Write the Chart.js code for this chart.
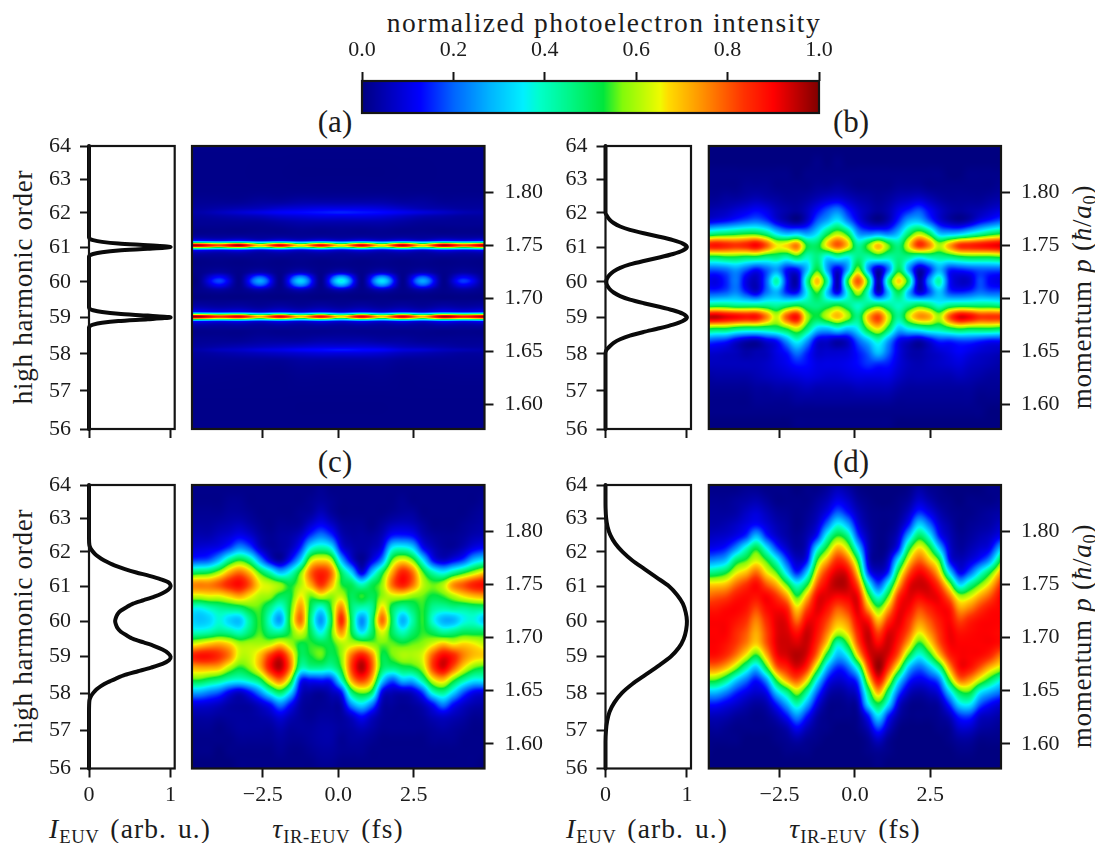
<!DOCTYPE html>
<html><head><meta charset="utf-8">
<script src="https://cdn.jsdelivr.net/npm/chart.js@4/dist/chart.umd.min.js"></script>
<style>
html,body{margin:0;padding:0;background:#fff;width:1095px;height:843px;overflow:hidden}
canvas{position:absolute;display:block}
.t{position:absolute;font-family:"Liberation Serif",serif;color:#1c1c1c;white-space:nowrap;line-height:1}
.t sub{font-size:.68em;vertical-align:-.28em;line-height:0;letter-spacing:.6px}
.lab{font-size:27px;letter-spacing:.75px}
.xl{font-size:27.5px;letter-spacing:1.1px;word-spacing:3px}
.pan{font-size:31px}
.rot{transform:translate(-50%,-50%) rotate(-90deg)}
.cen{transform:translate(-50%,-50%)}
</style></head><body>
<div class="t cen" style="left:604px;top:23px;font-size:27.5px;letter-spacing:1.5px">normalized photoelectron intensity</div>
<div class="t pan cen" style="left:335px;top:121px">(a)</div>
<div class="t pan cen" style="left:851px;top:121px">(b)</div>
<div class="t pan cen" style="left:335px;top:461px">(c)</div>
<div class="t pan cen" style="left:851px;top:461px">(d)</div>
<div class="t lab rot" style="left:23px;top:287px">high harmonic order</div>
<div class="t lab rot" style="left:23px;top:626px">high harmonic order</div>
<div class="t lab rot" style="left:1082px;top:297px">momentum <i>p</i> (<i>ħ</i>/<i>a</i><sub>0</sub>)</div>
<div class="t lab rot" style="left:1082px;top:636px">momentum <i>p</i> (<i>ħ</i>/<i>a</i><sub>0</sub>)</div>
<div class="t xl cen" style="left:130px;top:829px"><i>I</i><sub>EUV</sub> (arb. u.)</div>
<div class="t xl cen" style="left:338px;top:829px"><i>τ</i><sub>IR-EUV</sub> (fs)</div>
<div class="t xl cen" style="left:647px;top:829px"><i>I</i><sub>EUV</sub> (arb. u.)</div>
<div class="t xl cen" style="left:855px;top:829px"><i>τ</i><sub>IR-EUV</sub> (fs)</div>
<script>
// ---------- axis values ----------
const harmonicOrders = [56,57,58,59,60,61,62,63,64];
const intensityTicks = [0,1];
const delayTicks = [-2.5,0,2.5];
const delayLabels = ['\u22122.5','0.0','2.5'];
const momentumTicks = [1.60,1.65,1.70,1.75,1.80];
const momentumLabels = ['1.60','1.65','1.70','1.75','1.80'];
const colorbarTicks = [0,0.2,0.4,0.6,0.8,1];
const colorbarLabels = ['0.0','0.2','0.4','0.6','0.8','1.0'];
const colorbarLevels = [0,0.1,0.2,0.3,0.4,0.5,0.6,0.7,0.8,0.9,1];
// pixel-read momentum of each harmonic order tick
const orderMomentum = [1.5767,1.6126,1.6477,1.6820,1.7155,1.7484,1.7807,1.8124,1.8437];

// ---------- EUV spectra (order, intensity) ----------
const ordersA = [56,58.5,58.72,58.76,58.8,58.85,58.9,58.95,59,59.05,59.1,59.15,59.2,59.24,59.28,59.5,60,60.5,60.72,60.76,60.8,60.85,60.9,60.95,61,61.05,61.1,61.15,61.2,61.24,61.28,61.5,62,64];
const intensityA = [0,0,0,0.01,0.05,0.16,0.36,0.72,1,0.72,0.36,0.16,0.05,0.01,0,0,0,0,0,0.01,0.05,0.16,0.36,0.72,1,0.72,0.36,0.16,0.05,0.01,0,0,0,0];
const ordersB = [56,57,58,58.1,58.2,58.3,58.4,58.5,58.6,58.7,58.8,58.9,59,59.1,59.2,59.3,59.4,59.5,59.6,59.7,59.8,59.9,60,60.1,60.2,60.3,60.4,60.5,60.6,60.7,60.8,60.9,61,61.1,61.2,61.3,61.4,61.5,61.6,61.7,61.8,61.9,62,64];
const intensityB = [0,0,0,0.01,0.05,0.1,0.18,0.3,0.47,0.66,0.83,0.95,1,0.95,0.83,0.66,0.47,0.3,0.18,0.1,0.05,0.02,0.01,0.02,0.05,0.1,0.18,0.3,0.47,0.66,0.83,0.95,1,0.95,0.83,0.66,0.47,0.3,0.18,0.1,0.05,0.02,0,0];
const ordersC = [56,57.5,57.8,57.9,58,58.1,58.2,58.3,58.4,58.5,58.6,58.7,58.8,58.9,59,59.1,59.2,59.3,59.4,59.5,59.6,59.7,59.8,59.9,60,60.1,60.2,60.3,60.4,60.5,60.6,60.7,60.8,60.9,61,61.1,61.2,61.3,61.4,61.5,61.6,61.7,61.8,61.9,62,62.1,62.2,62.4,64];
const intensityC = [0,0,0.005,0.02,0.05,0.09,0.15,0.23,0.33,0.44,0.6,0.76,0.9,0.98,1,0.97,0.9,0.8,0.67,0.54,0.46,0.39,0.35,0.33,0.32,0.33,0.35,0.39,0.46,0.54,0.67,0.8,0.9,0.97,1,0.98,0.88,0.74,0.58,0.44,0.32,0.23,0.15,0.09,0.05,0.02,0.005,0,0];
const ordersD = [56,56.7,57,57.25,57.5,57.75,58,58.25,58.5,58.75,59,59.25,59.5,59.75,60,60.25,60.5,60.75,61,61.25,61.5,61.75,62,62.25,62.5,62.75,63,63.3,63.6,64];
const intensityD = [0,0,0.006,0.02,0.05,0.11,0.2,0.33,0.49,0.65,0.8,0.9,0.96,0.99,1,0.985,0.95,0.88,0.78,0.63,0.48,0.33,0.21,0.12,0.06,0.025,0.008,0.001,0,0];

// ---------- photoelectron maps (percent of full scale) ----------
const tauColumns = [-4.949,-4.612,-4.276,-3.939,-3.602,-3.266,-2.929,-2.593,-2.256,-1.919,-1.583,-1.246,-0.910,-0.573,-0.236,0.100,0.437,0.773,1.110,1.447,1.783,2.120,2.456,2.793,3.130,3.466,3.803,4.139,4.476,4.813];
const rowMomentum = [1.8511,1.8398,1.8286,1.8174,1.8062,1.7949,1.7837,1.7725,1.7612,1.75,1.7388,1.7275,1.7163,1.7051,1.6938,1.6826,1.6714,1.6602,1.6489,1.6377,1.6265,1.6152,1.604,1.5928,1.5816,1.5703];

const tauColumnsA = [-5.286,-4.613,-3.94,-3.266,-2.593,-1.92,-1.247,-0.573,0.1,0.773,1.447,2.12,2.793,3.467,4.14,4.813];
const rowMomentumA = [1.8525,1.8022,1.7912,1.7849,1.7811,1.7774,1.7708,1.7597,1.7547,1.7535,1.7522,1.7513,1.75,1.7487,1.7478,1.7465,1.7453,1.7393,1.7252,1.7204,1.7164,1.7123,1.7075,1.6984,1.6874,1.6862,1.6849,1.684,1.6827,1.6814,1.6805,1.6792,1.678,1.6717,1.6607,1.6544,1.6513,1.6481,1.6403,1.6104,1.5695];
// panel (a): one list per row
const mapARows = [
[1,1,1,1,1,1,1,1,1,1,1,1,1,1,1,1],
[1,1,1,1,1,1,1,1,1,1,1,1,1,1,1,1],
[2,2,2,2,3,3,4,4,4,4,4,3,3,2,2,2],
[3,3,4,5,6,8,9,10,10,10,9,7,5,4,3,3],
[4,4,6,8,10,12,13,14,15,14,13,11,9,7,5,4],
[3,3,4,5,6,8,9,10,10,10,9,7,5,4,3,3],
[2,2,2,2,2,3,4,4,4,4,4,3,2,2,2,2],
[2,2,2,2,2,2,2,2,2,2,2,2,2,2,2,2],
[12,12,10,12,8,11,8,11,8,11,8,11,8,12,10,12],
[32,32,28,32,24,30,22,30,22,30,22,31,24,32,28,32],
[58,58,50,58,42,55,40,54,40,55,40,57,42,58,50,58],
[84,84,72,85,60,80,58,78,58,80,58,83,60,85,72,85],
[97,96,82,97,70,92,68,90,68,92,68,95,70,97,82,97],
[84,84,72,85,60,80,58,78,58,80,58,83,60,85,72,85],
[58,58,50,58,42,55,40,54,40,55,40,57,42,58,50,58],
[32,32,28,32,24,30,22,30,22,30,22,31,24,32,28,32],
[12,12,10,12,8,11,8,11,8,11,8,11,8,12,10,12],
[2,2,2,2,2,2,2,2,2,2,2,2,2,2,2,2],
[1,1,3,1,4,1,5,1,5,1,5,1,4,1,3,1],
[1,1,12,1,19,1,23,1,26,1,24,1,19,1,11,1],
[1,1,18,1,27,1,32,1,37,1,34,1,27,1,17,1],
[1,1,12,1,19,1,23,1,26,1,24,1,19,1,11,1],
[1,1,3,1,4,1,5,1,5,1,5,1,4,1,3,1],
[1,1,1,1,1,1,1,1,1,1,1,1,1,1,1,1],
[12,12,10,11,8,11,8,11,8,11,8,11,8,12,10,12],
[32,32,28,31,24,30,23,30,22,30,23,31,24,32,28,32],
[60,60,52,56,44,55,42,54,40,55,42,56,44,58,52,58],
[86,86,74,80,62,80,60,78,58,80,60,81,62,85,76,85],
[98,98,85,92,72,92,70,90,68,92,70,93,72,97,88,97],
[86,86,74,80,62,80,60,78,58,80,60,81,62,85,76,85],
[60,60,52,56,44,55,42,54,40,55,42,56,44,58,52,58],
[32,32,28,31,24,30,23,30,22,30,23,31,24,32,28,32],
[12,12,10,11,8,11,8,11,8,11,8,11,8,12,10,12],
[2,2,2,2,2,2,2,2,2,2,2,2,2,2,2,2],
[2,2,2,2,3,3,3,4,4,4,3,3,2,2,2,2],
[3,3,4,5,6,7,8,9,9,9,8,6,5,4,3,3],
[4,4,6,7,9,10,12,13,14,13,12,9,8,6,5,4],
[3,3,4,5,6,7,8,9,9,9,8,6,5,4,3,3],
[2,2,2,2,2,2,3,3,3,3,3,2,2,2,2,2],
[1,1,1,1,1,1,1,1,1,1,1,1,1,1,1,1],
[1,1,1,1,1,1,1,1,1,1,1,1,1,1,1,1]];
// panels (b),(c),(d): one list per tau column
const mapBCols = [
[0,0,0,1,1,2,4,10,42,86,50,20,12,18,44,94,54,20,8,6,3,2,1,1,0,0],
[0,0,0,1,1,2,5,12,46,88,50,20,10,18,46,95,52,18,8,6,4,2,1,1,0,0],
[0,0,0,1,1,3,6,14,48,86,52,22,15,20,46,92,52,16,7,6,4,2,1,1,0,0],
[0,0,0,1,1,3,8,17,50,84,52,26,22,24,44,90,48,10,6,6,4,2,1,1,0,0],
[0,0,0,1,2,4,10,20,52,86,50,20,10,16,44,88,46,6,4,6,4,2,1,1,0,0],
[0,0,0,1,2,5,12,22,52,90,50,14,6,10,44,88,46,5,5,6,5,3,2,1,0,0],
[0,0,0,1,2,4,10,18,46,80,46,20,20,22,44,76,46,10,6,7,6,3,2,1,0,0],
[0,0,0,1,1,3,6,10,34,66,46,26,42,28,42,62,48,14,10,9,7,4,2,1,0,0],
[0,0,0,1,1,2,4,5,28,68,42,14,14,16,46,80,54,26,14,11,8,4,2,1,0,0],
[0,0,0,0,1,2,3,2,30,76,50,14,5,14,50,88,62,38,22,14,9,5,3,1,1,0],
[0,0,0,1,1,3,6,8,26,52,40,30,44,36,46,60,48,26,15,13,10,6,3,1,1,0],
[0,0,1,1,2,5,12,20,34,50,46,52,70,54,46,52,32,10,8,10,9,5,3,1,1,0],
[0,0,0,1,2,7,18,28,50,68,34,26,42,30,48,62,30,8,8,10,8,5,3,1,1,0],
[0,0,1,1,3,8,22,36,60,80,40,10,5,12,52,70,36,5,8,10,8,5,3,1,1,0],
[0,0,0,1,2,6,14,24,50,68,36,28,52,38,46,60,30,8,9,11,9,5,3,1,1,0],
[0,0,0,1,1,4,8,12,26,44,46,58,80,60,40,46,36,20,14,13,10,6,3,1,1,0],
[0,0,0,1,1,3,5,5,22,56,42,26,52,38,46,70,56,30,20,16,10,6,3,1,1,0],
[0,0,0,1,1,2,3,2,24,70,46,6,4,8,50,82,66,40,30,15,10,6,3,1,1,0],
[0,0,0,1,1,3,5,6,22,56,42,22,44,30,44,62,50,26,20,14,10,6,3,1,1,0],
[0,0,0,1,2,5,10,16,30,46,46,50,68,50,40,44,30,12,10,9,7,4,2,1,0,0],
[0,0,0,1,2,6,14,28,48,66,44,26,48,28,44,62,36,8,5,6,5,3,2,1,0,0],
[0,0,0,1,2,7,18,30,60,84,38,6,5,10,50,74,40,5,4,5,5,3,2,1,0,0],
[0,0,0,1,1,5,12,20,50,76,42,14,24,18,46,72,44,10,6,6,5,3,2,1,0,0],
[0,0,0,1,1,3,7,10,30,60,44,28,42,30,38,60,44,16,8,7,5,3,2,1,0,0],
[0,0,0,0,1,2,4,5,28,72,46,16,14,18,44,80,50,16,10,8,5,3,2,1,0,0],
[0,0,0,0,1,2,3,3,30,84,50,16,7,16,46,92,54,18,12,9,6,3,2,1,0,0],
[0,0,0,1,1,2,4,6,36,86,52,18,8,18,46,90,52,18,10,7,5,3,2,1,0,0],
[0,0,0,1,1,2,5,12,42,88,52,20,18,22,46,84,52,16,8,6,4,2,1,1,0,0],
[0,0,0,1,1,3,7,16,48,90,52,20,12,20,46,84,52,14,7,5,3,2,1,0,0,0],
[0,0,0,1,2,4,9,20,52,92,54,20,10,20,44,84,50,14,6,4,3,2,1,0,0,0]];
const mapCCols = [
[1,1,1,2,3,5,8,17,48,74,62,38,34,40,62,84,70,54,28,10,4,2,1,1,0,0],
[1,1,1,2,3,5,9,18,50,76,62,36,30,40,66,88,72,54,28,10,4,2,1,1,0,0],
[1,1,1,2,3,5,10,20,52,76,64,40,32,42,70,88,72,50,24,9,4,2,1,1,0,0],
[1,1,1,2,4,7,12,30,60,80,64,44,38,46,72,84,70,46,20,7,3,1,1,0,0,0],
[1,1,2,3,5,9,18,46,72,86,68,46,32,44,68,76,60,40,12,4,3,2,1,1,0,0],
[1,1,2,3,6,12,26,54,78,89,72,48,30,40,60,62,53,38,8,3,3,3,2,1,1,1],
[1,1,1,2,4,9,20,46,70,80,66,54,44,48,60,62,58,42,14,4,3,3,2,1,1,1],
[1,1,1,1,2,4,8,26,54,66,60,55,54,55,60,70,70,50,25,8,4,3,2,1,1,1],
[1,1,1,1,1,2,3,10,42,62,58,45,38,46,62,84,88,68,40,14,6,3,2,1,1,1],
[1,1,1,1,2,3,3,4,30,58,50,36,26,44,68,91,95,78,50,24,10,5,3,2,1,1],
[1,1,1,1,2,4,6,14,38,52,52,54,56,54,60,74,76,58,34,14,6,3,2,1,1,1],
[1,1,1,2,3,8,16,32,56,60,66,74,78,64,52,50,42,16,8,4,3,3,2,1,1,1],
[1,1,2,3,8,18,38,62,78,72,56,50,46,50,54,53,44,14,4,2,2,3,3,2,1,1],
[1,2,3,6,12,24,44,68,86,84,62,36,25,36,52,56,44,15,3,2,3,4,4,3,2,1],
[1,1,2,3,8,18,38,62,78,72,58,54,50,54,52,50,42,16,6,3,3,4,4,3,2,1],
[1,1,1,1,3,6,12,30,50,54,62,76,85,74,60,58,54,40,14,5,3,3,2,2,1,1],
[1,1,1,1,2,3,5,10,32,50,50,48,50,52,62,78,82,72,48,26,8,4,3,2,1,1],
[1,1,1,1,2,3,3,2,10,40,54,40,24,34,62,88,96,83,58,35,14,6,3,2,1,1],
[1,1,1,1,1,3,5,10,30,50,50,44,46,48,58,76,80,70,50,24,8,4,2,1,1,1],
[1,1,1,1,3,6,11,24,50,58,58,68,78,64,56,52,50,34,12,5,3,2,1,1,1,1],
[1,1,1,2,6,15,36,56,72,78,62,50,50,50,56,56,46,20,6,3,2,2,1,1,1,1],
[1,1,2,3,7,16,40,66,86,87,62,42,28,40,54,60,50,30,6,2,2,2,1,1,1,1],
[1,1,1,3,6,14,34,58,78,78,58,48,42,48,56,60,52,30,8,3,2,2,1,1,1,1],
[1,1,1,1,3,6,14,36,56,62,56,54,54,54,58,64,60,44,18,6,3,2,1,1,1,1],
[1,1,1,1,1,3,6,14,42,56,52,44,38,50,64,80,82,64,40,14,6,3,2,1,1,1],
[1,1,1,1,1,2,3,8,36,60,54,42,28,44,70,90,92,70,46,24,8,4,2,1,1,1],
[1,1,1,1,1,2,3,12,44,74,60,44,28,46,66,86,80,56,34,14,6,3,2,1,1,1],
[1,1,1,1,2,3,6,18,52,80,66,44,36,50,68,76,66,44,20,8,4,2,1,1,1,1],
[1,1,1,2,3,5,11,30,60,86,70,46,38,50,66,70,56,36,12,5,2,1,1,1,1,0],
[1,1,2,3,4,6,14,36,68,89,72,46,30,50,62,68,52,36,10,4,2,1,1,1,0,0]];
const mapDCols = [
[1,1,2,3,4,6,11,23,45,68,78,87,90,90,90,88,76,56,30,14,6,2,1,1,0,0],
[1,1,2,3,4,7,12,25,47,68,80,87,90,90,90,88,76,55,30,14,6,3,1,0,0,0],
[1,1,2,3,5,8,15,30,52,70,82,89,90,90,88,84,70,46,24,11,5,2,1,0,0,0],
[1,1,3,4,7,11,25,48,64,78,87,90,88,85,83,76,58,32,16,8,3,1,1,0,0,0],
[1,2,4,7,10,17,40,55,70,84,89,88,84,80,76,64,42,22,11,5,2,1,0,0,0,0],
[1,2,5,9,13,30,52,63,78,89,88,82,76,72,68,52,30,14,8,3,1,1,0,0,0,0],
[1,1,3,6,9,16,36,54,66,80,90,89,85,82,80,70,52,26,12,5,2,1,0,0,0,0],
[1,1,1,3,5,8,18,38,55,71,84,90,92,92,92,89,78,55,32,15,6,2,1,0,0,0],
[0,1,1,2,3,4,8,18,33,55,73,86,91,93,94,93,86,72,46,28,14,5,2,1,0,0],
[0,0,1,1,1,2,3,7,15,38,54,68,78,88,93,96,92,80,60,42,25,12,4,1,0,0],
[0,1,1,2,3,5,8,14,32,52,70,82,90,94,94,92,84,66,44,28,14,6,2,1,0,0],
[0,1,3,5,8,15,36,54,68,80,90,92,90,88,84,76,58,36,20,10,4,2,1,0,0,0],
[1,3,6,11,22,40,56,72,85,91,92,88,82,76,66,48,28,14,6,2,1,1,0,0,0,0],
[2,6,11,20,37,55,72,85,93,96,90,80,72,62,40,28,15,8,3,1,1,0,0,0,0,0],
[1,4,8,14,28,46,62,78,90,94,91,84,76,68,54,36,20,11,5,2,1,0,0,0,0,0],
[0,1,3,6,10,18,34,52,66,80,90,92,90,86,80,66,40,20,11,5,2,1,0,0,0,0],
[0,0,1,2,3,5,7,9,18,40,58,73,88,94,94,90,80,64,46,34,14,6,2,1,0,0],
[0,0,0,1,1,1,1,2,7,18,37,56,70,82,90,96,98,89,72,52,34,18,7,2,1,0],
[0,0,0,1,1,2,3,8,16,38,56,72,84,92,94,92,84,68,48,34,15,7,2,1,0,0],
[0,0,1,2,4,8,15,36,55,70,84,90,92,90,86,78,60,36,20,9,4,1,0,0,0,0],
[0,1,3,7,14,30,50,66,80,90,92,90,85,80,70,52,30,16,7,2,1,0,0,0,0,0],
[1,4,8,16,32,50,67,79,90,94,90,82,75,66,52,36,20,11,4,1,1,0,0,0,0,0],
[1,2,5,11,22,38,56,70,84,92,92,86,80,74,64,48,28,14,6,2,1,0,0,0,0,0],
[0,1,2,5,9,15,32,54,68,82,90,90,87,84,80,68,44,22,11,4,2,1,0,0,0,0],
[0,0,1,2,4,6,9,14,34,60,78,88,90,91,90,85,72,54,32,16,6,2,1,0,0,0],
[0,0,0,1,1,2,3,6,12,33,60,73,82,88,90,90,89,77,52,34,16,8,3,1,0,0],
[0,0,1,1,2,3,5,9,20,44,63,76,86,89,90,90,88,74,54,36,17,8,3,1,0,0],
[0,0,1,2,3,5,8,15,36,56,72,83,89,90,90,89,80,62,36,20,8,4,1,0,0,0],
[1,1,1,3,4,7,12,26,52,68,80,88,90,90,90,85,70,50,28,13,6,3,1,0,0,0],
[1,1,2,4,7,12,30,52,72,84,90,90,90,89,88,76,62,38,22,9,4,2,1,0,0,0]];

// ---------- colour map ----------
const cmapLevels = [0,0.127,0.2,0.28,0.353,0.39,0.46,0.528,0.57,0.653,0.67,0.74,0.835,0.9,1];
const cmapRGB = [[0,0,128],[0,0,255],[0,100,255],[0,180,255],[0,240,255],[0,255,200],[0,245,130],[0,230,60],[130,250,10],[240,250,0],[255,220,0],[255,150,0],[255,50,0],[255,0,0],[128,0,0]];
function colourOf(v){
  v=Math.max(0,Math.min(1,v));
  let i=0; while(i<cmapLevels.length-2 && v>cmapLevels[i+1]) i++;
  const s=(v-cmapLevels[i])/(cmapLevels[i+1]-cmapLevels[i]);
  return cmapRGB[i].map((c,k)=>c+(cmapRGB[i+1][k]-c)*s);
}

// ---------- drawing helpers ----------
function smooth(ts,vs,t){
  const n=ts.length; let i=0;
  if(t<=ts[0]) return vs[0];
  if(t>=ts[n-1]) return vs[n-1];
  while(i<n-2 && t>ts[i+1]) i++;
  const h=ts[i+1]-ts[i], s=(t-ts[i])/h;
  const m0=i>0?(vs[i+1]-vs[i-1])/(ts[i+1]-ts[i-1]):(vs[i+1]-vs[i])/h;
  const m1=i<n-2?(vs[i+2]-vs[i])/(ts[i+2]-ts[i]):(vs[i+1]-vs[i])/h;
  const s2=s*s,s3=s2*s;
  return (2*s3-3*s2+1)*vs[i]+(s3-2*s2+s)*h*m0+(-2*s3+3*s2)*vs[i+1]+(s3-s2)*h*m1;
}
// paints a value grid (cols[x][y], percent) through the chart's own scales
function heatPlugin(xs,ys,cols){
  const order=ys.map((y,i)=>i).sort((a,b)=>ys[a]-ys[b]);
  const ya=order.map(i=>ys[i]);
  return {id:'heatCells',beforeDatasetsDraw(chart){
    const a=chart.chartArea,X=chart.scales.x,Y=chart.scales.y;
    const x0=Math.floor(a.left),y0=Math.floor(a.top),w=Math.ceil(a.right)-x0,h=Math.ceil(a.bottom)-y0;
    const img=chart.ctx.createImageData(w,h);
    const rowVals=order.map(i=>cols.map(c=>c[i]));
    for(let px=0;px<w;px++){
      const t=X.getValueForPixel(x0+px+.5);
      const colv=rowVals.map(r=>smooth(xs,r,t));
      for(let py=0;py<h;py++){
        const p=Y.getValueForPixel(y0+py+.5);
        const c=colourOf(smooth(ya,colv,p)/100);
        const o=(py*w+px)*4;
        img.data[o]=c[0];img.data[o+1]=c[1];img.data[o+2]=c[2];img.data[o+3]=255;
      }
    }
    chart.ctx.putImageData(img,x0,y0);
  }};
}
const framePlugin={id:'frame',afterDatasetsDraw(chart){
  const a=chart.chartArea,c=chart.ctx;
  c.save();c.strokeStyle='#141414';c.lineWidth=2.2;
  c.strokeRect(a.left,a.top,a.right-a.left,a.bottom-a.top);c.restore();
}};
function place(plot,m){
  const left=Math.floor(plot.l-m.l),top=Math.floor(plot.t-m.t);
  const w=Math.ceil(plot.r+m.r)-left,h=Math.ceil(plot.b+m.b)-top;
  const cv=document.createElement('canvas');
  cv.width=w;cv.height=h;cv.style.left=left+'px';cv.style.top=top+'px';cv.style.width=w+'px';cv.style.height=h+'px';
  document.body.appendChild(cv);
  return {cv,L:plot.l-left,T:plot.t-top,R:w-(plot.r-left),B:h-(plot.b-top)};
}
const tickFont={family:'"Liberation Serif",serif',size:22};
function axisStyle(ticks,labels,size,side,showLabels,pad){
  return {
    grid:{drawOnChartArea:false,drawTicks:true,tickLength:9,tickWidth:2,tickColor:'#141414'},
    border:{display:false},
    ticks:{autoSkip:false,maxRotation:0,minRotation:0,padding:pad,color:'#1c1c1c',font:tickFont,
      callback:(v,i)=>showLabels?labels[i]:''},
    afterBuildTicks:s=>{s.ticks=ticks.map(v=>({value:v}));},
    afterFit:s=>{if(side==='x')s.height=size;else s.width=size;}
  };
}
const pMin=1.5767,pMax=1.8437,tauMax=4.84;
const baseOpts={responsive:false,animation:false,devicePixelRatio:1,plugins:{legend:{display:false},tooltip:{enabled:false},title:{display:false}}};
function profileChart(plot,orders,intensity,showX){
  const g=place(plot,{l:50,r:15,t:32,b:45});
  const momentum=orders.map(o=>{
    const k=Math.min(7,Math.floor(o-56)),f=o-56-k;
    return orderMomentum[k]+(orderMomentum[k+1]-orderMomentum[k])*f;
  });
  new Chart(g.cv,{type:'scatter',plugins:[framePlugin],
    data:{datasets:[{data:intensity.map((v,i)=>({x:v,y:momentum[i]})),showLine:true,borderColor:'#0a0a0a',borderWidth:4,pointRadius:0,tension:0.25,clip:false,borderCapStyle:'round'}]},
    options:{...baseOpts,layout:{autoPadding:false,padding:{top:g.T,right:g.R,left:0,bottom:0}},scales:{
      x:{type:'linear',position:'bottom',min:0,max:1.05,...axisStyle(intensityTicks,intensityTicks.map(String),g.B,'x',showX,5)},
      y:{type:'linear',position:'left',min:pMin,max:pMax,...axisStyle(orderMomentum,harmonicOrders.map(String),g.L,'y',true,9)}
    }}});
}
function heatChart(plot,xs,ys,cols,showX){
  const g=place(plot,{l:5,r:62,t:32,b:45});
  const nodes=[];xs.forEach((x,j)=>ys.forEach((y,i)=>nodes.push({x,y,v:cols[j][i]})));
  new Chart(g.cv,{type:'scatter',plugins:[heatPlugin(xs,ys,cols),framePlugin],
    data:{datasets:[{data:nodes,pointRadius:0,showLine:false}]},
    options:{...baseOpts,layout:{autoPadding:false,padding:{top:g.T,left:g.L,right:0,bottom:0}},scales:{
      x:{type:'linear',position:'bottom',min:-tauMax,max:tauMax,...axisStyle(delayTicks,delayLabels,g.B,'x',showX,5)},
      y:{type:'linear',position:'right',min:pMin,max:pMax,...axisStyle(momentumTicks,momentumLabels,g.R,'y',true,11)}
    }}});
}
const mapACols=tauColumnsA.map((t,j)=>mapARows.map(r=>r[j]));
const topY={t:146,b:429},lowY={t:485,b:768.5};
profileChart({l:89,r:174.7,...topY},ordersA,intensityA,false);
heatChart({l:192,r:484.5,...topY},tauColumnsA,rowMomentumA,mapACols,false);
profileChart({l:605.5,r:691,...topY},ordersB,intensityB,false);
heatChart({l:708.8,r:1001,...topY},tauColumns,rowMomentum,mapBCols,false);
profileChart({l:89,r:174.7,...lowY},ordersC,intensityC,true);
heatChart({l:192,r:484.5,...lowY},tauColumns,rowMomentum,mapCCols,true);
profileChart({l:605.5,r:691,...lowY},ordersD,intensityD,true);
heatChart({l:708.8,r:1001,...lowY},tauColumns,rowMomentum,mapDCols,true);

// colour bar
(function(){
  const plot={l:362,r:819,t:81,b:113};
  const g=place(plot,{l:30,r:30,t:42,b:4});
  const cols=colorbarLevels.map(v=>[v*100,v*100]);
  const ys=[0,1];
  const nodes=[];colorbarLevels.forEach((x,j)=>ys.forEach((y,i)=>nodes.push({x,y,v:cols[j][i]})));
  const xa=axisStyle(colorbarTicks,colorbarLabels,g.T,'x',true,9);
  new Chart(g.cv,{type:'scatter',plugins:[heatPlugin(colorbarLevels,ys,cols),framePlugin],
    data:{datasets:[{data:nodes,pointRadius:0,showLine:false}]},
    options:{...baseOpts,layout:{autoPadding:false,padding:{left:g.L,right:g.R,bottom:g.B,top:0}},scales:{
      x:{type:'linear',position:'top',min:0,max:1,...xa},
      y:{type:'linear',display:false,min:0,max:1}
    }}});
})();
</script>
</body></html>
